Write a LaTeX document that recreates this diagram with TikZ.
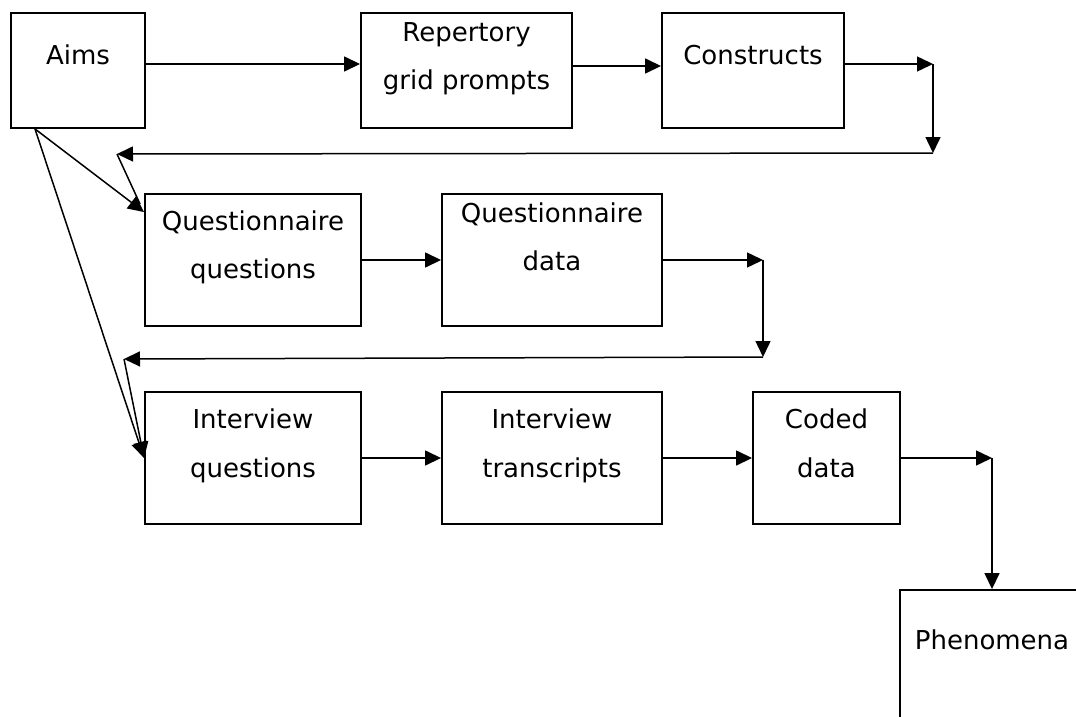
\documentclass[tikz,border=0pt]{standalone}
\usepackage{fontspec}
\setmainfont{DejaVu Sans}
\usetikzlibrary{arrows.meta,calc}
\tikzset{
  box/.style={draw, line width=1.9pt, rectangle, inner sep=0pt},
  lbl/.style={anchor=base, inner sep=0pt, font=\fontsize{26}{30}\selectfont},
  arr/.style={line width=1.5pt, -{Triangle[length=16pt 0 0,width=15pt 0 0]}},
  conn/.style={line width=1.5pt}
}
\begin{document}
\begin{tikzpicture}[x=1pt,y=-1pt]
\useasboundingbox (0,0) rectangle (1076,717);
% boxes
\node[box, minimum width=134pt, minimum height=115pt] (aims) at (78,70.5) {};
\node[box, minimum width=211pt, minimum height=115pt] (rep) at (466.5,70.5) {};
\node[box, minimum width=182pt, minimum height=115pt] (con) at (753,70.5) {};
\node[box, minimum width=216pt, minimum height=132pt] (qq) at (253,260) {};
\node[box, minimum width=220pt, minimum height=132pt] (qd) at (552,260) {};
\node[box, minimum width=216pt, minimum height=132pt] (iq) at (253,458) {};
\node[box, minimum width=220pt, minimum height=132pt] (it) at (552,458) {};
\node[box, minimum width=147pt, minimum height=132pt] (cd) at (826.5,458) {};
\node[box, minimum width=184pt, minimum height=160pt] (ph) at (992,670) {};
% labels
\node[lbl] (aimsT) at (78,65) {Aims};
\node[lbl] (repT1) at (466.5,42) {Repertory};
\node[lbl] (repT2) at (466.5,89) {grid prompts};
\node[lbl] (conT) at (753,64) {Constructs};
\node[lbl] (qqT1) at (253,230) {Questionnaire};
\node[lbl] (qqT2) at (253,278) {questions};
\node[lbl] (qdT1) at (552,222) {Questionnaire};
\node[lbl] (qdT2) at (552,270) {data};
\node[lbl] (iqT1) at (253,428) {Interview};
\node[lbl] (iqT2) at (253,477) {questions};
\node[lbl] (itT1) at (552,428) {Interview};
\node[lbl] (itT2) at (552,477) {transcripts};
\node[lbl] (cdT1) at (826.5,428) {Coded};
\node[lbl] (cdT2) at (826.5,477) {data};
\node[lbl] (phT) at (992,649) {Phenomena};
% corner points
\coordinate (ax) at (35,0);
\coordinate (a0) at (aims.south -| ax);
\coordinate (c1) at (933,64);
\coordinate (c2) at (933,153);
\coordinate (c3) at (117,154);
\coordinate (c4) at (763,260);
\coordinate (c5) at (763,357);
\coordinate (c6) at (124,359);
\coordinate (c7) at (992,458);
% connectors row 1
\draw[arr] ([yshift=6.5pt]aims.east) -- ([yshift=6.5pt]rep.west);
\draw[arr] ([yshift=4.5pt]rep.east) -- ([yshift=4.5pt]con.west);
\draw[arr] ([yshift=6.5pt]con.east) -- (c1);
\draw[arr] (c1) -- (c2);
\draw[arr] (c2) -- (c3);
\draw[conn] (c3) -- ([shift={(-4pt,-11pt)}]qq.north west);
% from aims
\draw[arr] (a0) -- ([yshift=-19pt]qq.north west);
\draw[arr] (a0) -- (iq.west);
% row 2
\draw[arr] (qq.east) -- (qd.west);
\draw[arr] (qd.east) -- (c4);
\draw[arr] (c4) -- (c5);
\draw[arr] (c5) -- (c6);
\draw[arr] (c6) -- (iq.west);
% row 3
\draw[arr] (iq.east) -- (it.west);
\draw[arr] (it.east) -- (cd.west);
\draw[arr] (cd.east) -- (c7);
\draw[arr] (c7) -- (ph.north);
\end{tikzpicture}
\end{document}
